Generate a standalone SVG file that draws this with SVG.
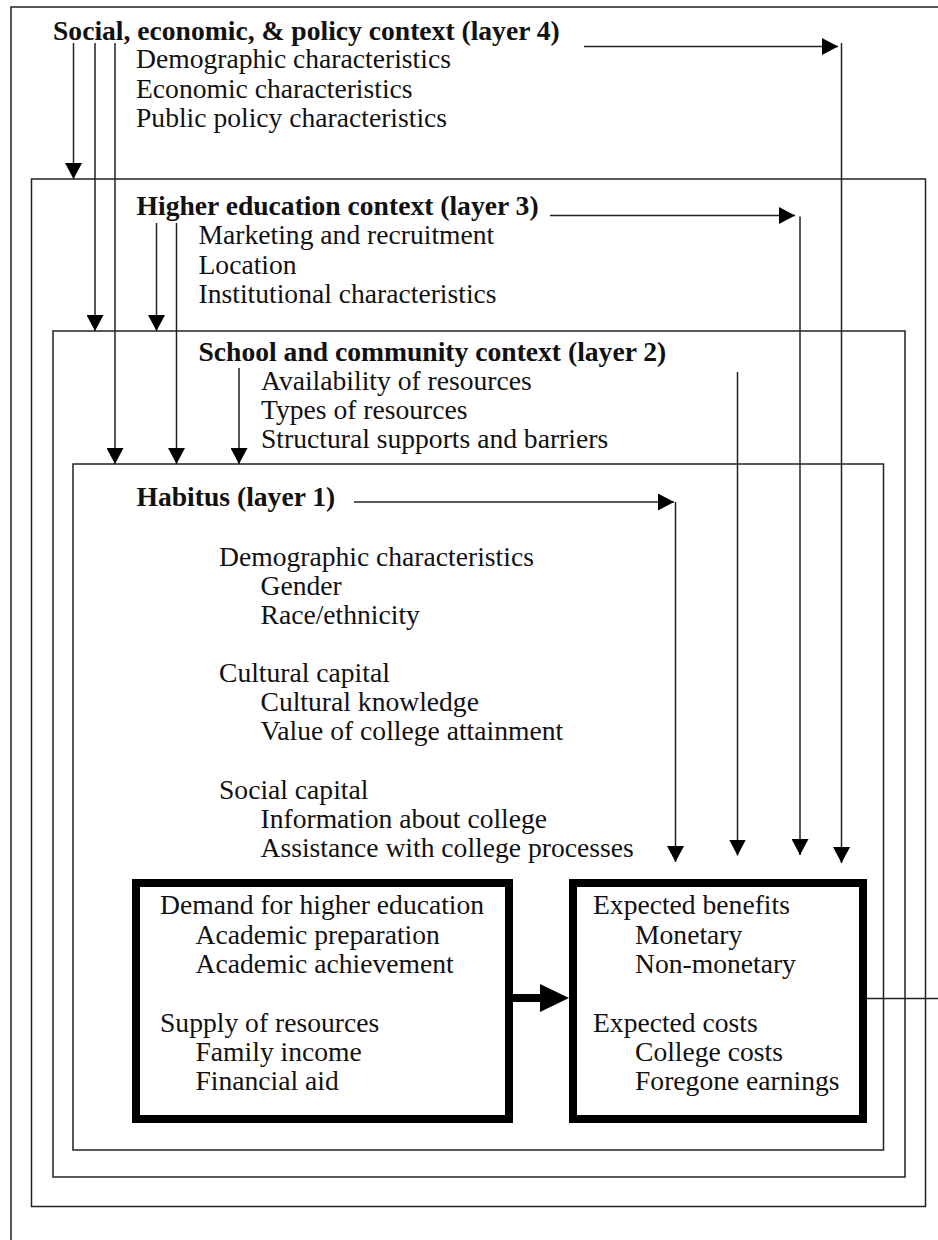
<svg xmlns="http://www.w3.org/2000/svg" width="938" height="1240" viewBox="0 0 938 1240">
<defs>
<style>
text{font-family:"Liberation Serif","Times New Roman",serif;font-size:27.6px;fill:#111}
.b{font-weight:bold}
.frame{fill:none;stroke:#222;stroke-width:1.5}
.thick{fill:none;stroke:#000;stroke-width:8}
.c{fill:none;stroke:#222;stroke-width:1.5}
</style>
<marker id="ah" markerUnits="userSpaceOnUse" markerWidth="17" markerHeight="17" refX="16" refY="8.5" orient="auto" viewBox="0 0 17 17">
<path d="M0,0 L16,8.5 L0,17 Z" fill="#000"/>
</marker>
</defs>
<rect width="938" height="1240" fill="#fff"/>
<g id="page-frame">
<path class="frame" d="M11,1240 V7 H938"/>
</g>
<g id="layer4">
<text class="b" x="53" y="40">Social, economic, &amp; policy context (layer 4)</text>
<text x="136" y="68">Demographic characteristics</text>
<text x="136" y="97.5">Economic characteristics</text>
<text x="136" y="127">Public policy characteristics</text>
</g>
<g id="layer3">
<rect class="frame" x="31.5" y="179" width="894" height="1027.5"/>
<text class="b" x="136.5" y="215">Higher education context (layer 3)</text>
<text x="198.5" y="244">Marketing and recruitment</text>
<text x="198.5" y="273.5">Location</text>
<text x="198.5" y="303">Institutional characteristics</text>
</g>
<g id="layer2">
<rect class="frame" x="53" y="331" width="852" height="846"/>
<text class="b" x="198.5" y="361">School and community context (layer 2)</text>
<text x="261" y="390">Availability of resources</text>
<text x="261" y="419">Types of resources</text>
<text x="261" y="448">Structural supports and barriers</text>
</g>
<g id="layer1">
<rect class="frame" x="73" y="464" width="810.5" height="686"/>
<text class="b" x="136.5" y="506">Habitus (layer 1)</text>
<text x="219" y="566">Demographic characteristics</text>
<text x="260.5" y="594.5">Gender</text>
<text x="260.5" y="623.5">Race/ethnicity</text>
<text x="219" y="682">Cultural capital</text>
<text x="260.5" y="711">Cultural knowledge</text>
<text x="260.5" y="740">Value of college attainment</text>
<text x="219" y="798.5">Social capital</text>
<text x="260.5" y="828">Information about college</text>
<text x="260.5" y="857">Assistance with college processes</text>
</g>
<g id="demand-supply">
<rect class="thick" x="136" y="883" width="373" height="236"/>
<text x="160" y="914">Demand for higher education</text>
<text x="195.5" y="944">Academic preparation</text>
<text x="195.5" y="973">Academic achievement</text>
<text x="160" y="1031.5">Supply of resources</text>
<text x="195.5" y="1060.5">Family income</text>
<text x="195.5" y="1089.5">Financial aid</text>
</g>
<g id="benefits-costs">
<rect class="thick" x="573" y="883" width="290" height="236"/>
<text x="593" y="914">Expected benefits</text>
<text x="635" y="944">Monetary</text>
<text x="635" y="973">Non-monetary</text>
<text x="593" y="1031.5">Expected costs</text>
<text x="635" y="1060.5">College costs</text>
<text x="635" y="1089.5">Foregone earnings</text>
</g>
<g id="connectors">
<line class="c" x1="584" y1="46.5" x2="838" y2="46.5" marker-end="url(#ah)"/>
<line class="c" x1="841.5" y1="43" x2="841.5" y2="863" marker-end="url(#ah)"/>
<line class="c" x1="73.5" y1="43" x2="73.5" y2="179" marker-end="url(#ah)"/>
<line class="c" x1="95" y1="43" x2="95" y2="331" marker-end="url(#ah)"/>
<line class="c" x1="115" y1="43" x2="115" y2="464" marker-end="url(#ah)"/>
<line class="c" x1="550" y1="215.5" x2="795" y2="215.5" marker-end="url(#ah)"/>
<line class="c" x1="800" y1="216.5" x2="800" y2="855" marker-end="url(#ah)"/>
<line class="c" x1="156.5" y1="223" x2="156.5" y2="331" marker-end="url(#ah)"/>
<line class="c" x1="176.5" y1="223" x2="176.5" y2="464" marker-end="url(#ah)"/>
<line class="c" x1="737.5" y1="372" x2="737.5" y2="855.5" marker-end="url(#ah)"/>
<line class="c" x1="239" y1="368" x2="239" y2="464" marker-end="url(#ah)"/>
<line class="c" x1="354" y1="502" x2="674" y2="502" marker-end="url(#ah)"/>
<line class="c" x1="675.5" y1="502" x2="675.5" y2="862" marker-end="url(#ah)"/>
<line x1="513" y1="998" x2="542" y2="998" stroke="#000" stroke-width="8"/>
<polygon points="540,984 569,998 540,1012" fill="#000"/>
<line class="c" x1="867" y1="998.5" x2="938" y2="998.5"/>
</g>
</svg>
